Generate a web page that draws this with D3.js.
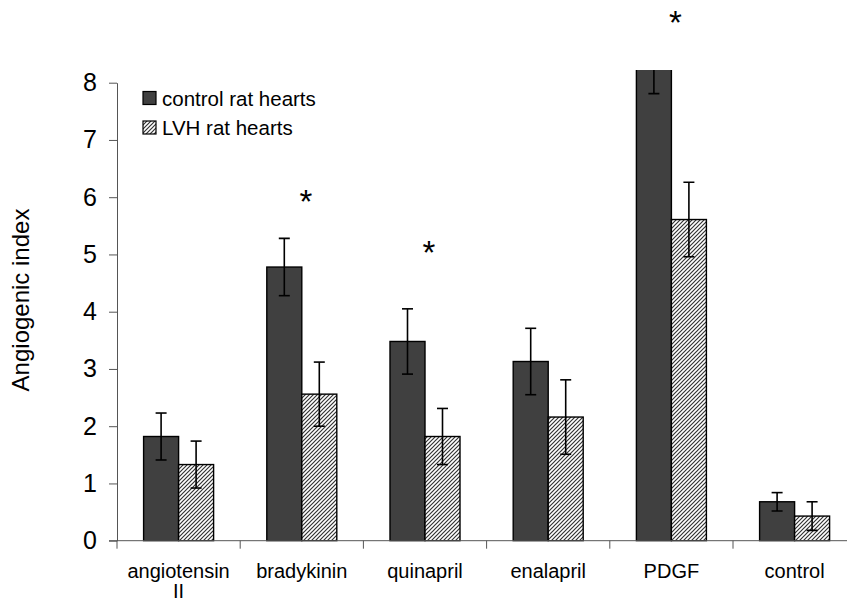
<!DOCTYPE html>
<html>
<head>
<meta charset="utf-8">
<script src="https://cdn.jsdelivr.net/npm/d3@7"></script>
<style>
  body { margin: 0; background: #fff; }
  text { font-family: "Liberation Sans", Arial, sans-serif; fill: #000; }
</style>
</head>
<body>
<div id="chart"></div>
<script>
// data
const CATEGORIES = [["angiotensin", "II"], ["bradykinin"], ["quinapril"], ["enalapril"], ["PDGF"], ["control"]];
const CONTROL = [1.82, 4.78, 3.48, 3.13, 8.25, 0.68];
const CONTROL_ERR = [0.41, 0.50, 0.57, 0.58, 0.44, 0.16];
const LVH = [1.33, 2.56, 1.82, 2.16, 5.61, 0.43];
const LVH_ERR = [0.41, 0.56, 0.49, 0.65, 0.65, 0.25];
const STAR_AT = [null, 6.02, 5.13, null, 9.15, null];   // y-value of the * marks
const Y_TICKS = [0, 1, 2, 3, 4, 5, 6, 7, 8];
const SERIES = ["control rat hearts", "LVH rat hearts"];

// frame
const FRAME_WIDTH = 847;
const FRAME_HEIGHT = 601;
const AXIS_X = 117;
const AXIS_Y = 540.7;
const TOP_Y = 82.7;
const CLIP_TOP = 70;
const BAND = 123.2;
const BAR_W = 35;

const svg = d3.select("#chart")
  .append("svg")
    .attr("width", FRAME_WIDTH)
    .attr("height", FRAME_HEIGHT);

const defs = svg.append("defs");

// diagonal hatch for LVH bars
const hatch = defs.append("pattern")
    .attr("id", "hatch")
    .attr("patternUnits", "userSpaceOnUse")
    .attr("width", 4)
    .attr("height", 4);
hatch.append("rect").attr("width", 4).attr("height", 4).attr("fill", "#fff");
hatch.append("path")
    .attr("d", "M-1,1 l2,-2 M0,4 l4,-4 M3,5 l2,-2")
    .attr("stroke", "#333")
    .attr("stroke-width", 1.2);

defs.append("clipPath")
    .attr("id", "plotclip")
  .append("rect")
    .attr("x", AXIS_X)
    .attr("y", CLIP_TOP)
    .attr("width", FRAME_WIDTH - AXIS_X)
    .attr("height", AXIS_Y - CLIP_TOP + 1);

// scales
const X_SCALE = d3.scaleBand()
    .domain(d3.range(CATEGORIES.length))
    .range([AXIS_X, AXIS_X + BAND * CATEGORIES.length]);

const Y_SCALE = d3.scaleLinear()
    .domain([0, 8])
    .range([AXIS_Y, TOP_Y]);

const center = (i) => X_SCALE(i) + X_SCALE.bandwidth() / 2;

// bars + error bars, clipped to the plot area like the original
const plot = svg.append("g").attr("clip-path", "url(#plotclip)");

const groups = [
  {vals: CONTROL, errs: CONTROL_ERR, fill: "#404040", dx: -BAR_W},
  {vals: LVH, errs: LVH_ERR, fill: "url(#hatch)", dx: 0}
];

groups.forEach((g) => {
  plot.selectAll(null)
    .data(g.vals)
    .enter()
    .append("rect")
      .attr("x", (d, i) => center(i) + g.dx)
      .attr("y", (d) => Y_SCALE(d))
      .attr("width", BAR_W)
      .attr("height", (d) => AXIS_Y - Y_SCALE(d))
      .attr("fill", g.fill)
      .attr("stroke", "#000")
      .attr("stroke-width", 1.4);

  const eb = plot.selectAll(null)
    .data(g.vals)
    .enter()
    .append("g")
      .attr("stroke", "#000")
      .attr("stroke-width", 1.6);
  const ex = (i) => center(i) + g.dx + BAR_W / 2;
  eb.append("line")
      .attr("x1", (d, i) => ex(i)).attr("x2", (d, i) => ex(i))
      .attr("y1", (d, i) => Y_SCALE(d + g.errs[i]))
      .attr("y2", (d, i) => Y_SCALE(d - g.errs[i]));
  [1, -1].forEach((s) => {
    eb.append("line")
        .attr("x1", (d, i) => ex(i) - 5.5).attr("x2", (d, i) => ex(i) + 5.5)
        .attr("y1", (d, i) => Y_SCALE(d + s * g.errs[i]))
        .attr("y2", (d, i) => Y_SCALE(d + s * g.errs[i]));
  });
});

// y axis
const yAxis = svg.append("g")
    .attr("transform", "translate(" + AXIS_X + ",0)")
    .call(d3.axisLeft(Y_SCALE).tickValues(Y_TICKS).tickSize(8).tickPadding(12).tickSizeOuter(0));
yAxis.select(".domain").attr("stroke", "#555");
yAxis.selectAll(".tick line").attr("stroke", "#555");
yAxis.selectAll(".tick text")
    .attr("font-size", "25px")
    .attr("font-family", "Liberation Sans, Arial, sans-serif")
    .attr("fill", "#000");

// x axis: category boundaries as ticks
svg.append("line")
    .attr("x1", AXIS_X - 8).attr("x2", FRAME_WIDTH)
    .attr("y1", AXIS_Y).attr("y2", AXIS_Y)
    .attr("stroke", "#555");
svg.selectAll(null)
  .data(d3.range(CATEGORIES.length + 1))
  .enter()
  .append("line")
    .attr("x1", (d) => AXIS_X + d * X_SCALE.step())
    .attr("x2", (d) => AXIS_X + d * X_SCALE.step())
    .attr("y1", AXIS_Y)
    .attr("y2", AXIS_Y + 8)
    .attr("stroke", "#555");

// category labels
const labels = svg.selectAll(null)
  .data(CATEGORIES)
  .enter()
  .append("text")
    .attr("text-anchor", "middle")
    .attr("font-size", "20px");
labels.selectAll("tspan")
  .data((d, i) => d.map((t) => ({t: t, i: i})))
  .enter()
  .append("tspan")
    .attr("x", (d) => center(d.i))
    .attr("y", (d, j) => 578 + j * 20)
    .text((d) => d.t);

// asterisks
svg.selectAll(null)
  .data(STAR_AT)
  .enter()
  .filter((d) => d !== null)
  .append("text")
    .attr("x", (d) => center(STAR_AT.indexOf(d)) + 4)
    .attr("y", (d) => Y_SCALE(d) + 17)
    .attr("text-anchor", "middle")
    .attr("font-size", "33px")
    .text("*");

// y title
svg.append("text")
    .attr("transform", "translate(29,300) rotate(-90)")
    .attr("text-anchor", "middle")
    .attr("font-size", "24px")
    .text("Angiogenic index");

// legend
const legend = svg.selectAll(null)
  .data(SERIES)
  .enter()
  .append("g")
    .attr("transform", (d, i) => "translate(143," + (91.5 + i * 29.5) + ")");
legend.append("rect")
    .attr("width", 13)
    .attr("height", 13)
    .attr("fill", (d, i) => i === 0 ? "#404040" : "url(#hatch)")
    .attr("stroke", "#000")
    .attr("stroke-width", 1.2);
legend.append("text")
    .attr("x", 19)
    .attr("y", 14)
    .attr("font-size", "20.5px")
    .text((d) => d);
</script>
</body>
</html>
